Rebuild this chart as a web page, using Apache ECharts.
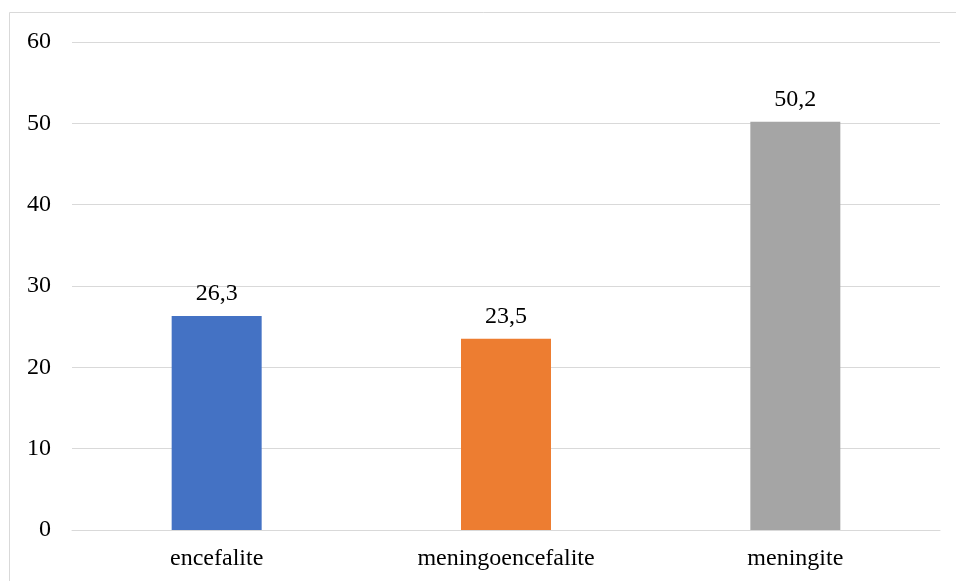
<!DOCTYPE html>
<html><head><meta charset="utf-8">
<script src="https://cdn.jsdelivr.net/npm/echarts@6/dist/echarts.min.js"></script>
<style>html,body{margin:0;padding:0;background:#fff}#c{width:956px;height:581px}</style>
</head><body><div id="c"></div>
<script>
var categories = ['encefalite', 'meningoencefalite', 'meningite'];
var values = [26.3, 23.5, 50.2];
var barColors = ['#4472C4', '#ED7D31', '#A5A5A5'];
var yTicks = [0, 10, 20, 30, 40, 50, 60];

var chart = echarts.init(document.getElementById('c'));
var font = '"Liberation Serif", "Times New Roman", serif';
chart.setOption({
  animation: false,
  backgroundColor: '#fff',
  graphic: [{type: 'rect', shape: {x: 9.5, y: 12.5, width: 960, height: 600}, style: {fill: 'none', stroke: '#D9D9D9', lineWidth: 1}, silent: true}],
  grid: {left: 72, right: 16, top: 42, bottom: 51},
  xAxis: {
    type: 'category', data: categories,
    axisLine: {lineStyle: {color: '#D9D9D9', width: 1}},
    axisTick: {show: false},
    axisLabel: {color: '#000', fontFamily: font, fontSize: 24, margin: 17}
  },
  yAxis: {
    type: 'value', min: yTicks[0], max: yTicks[yTicks.length - 1], interval: 10,
    axisLine: {show: false}, axisTick: {show: false},
    splitLine: {lineStyle: {color: '#D9D9D9', width: 1}},
    axisLabel: {color: '#000', fontFamily: font, fontSize: 24, margin: 21}
  },
  series: [{
    type: 'bar', barWidth: 90,
    data: values.map(function (v, i) { return {value: v, itemStyle: {color: barColors[i]}}; }),
    label: {show: true, position: 'top', distance: 10, color: '#000', fontFamily: font, fontSize: 24,
      formatter: function (p) { return p.value.toFixed(1).replace('.', ','); }}
  }]
});
</script></body></html>
